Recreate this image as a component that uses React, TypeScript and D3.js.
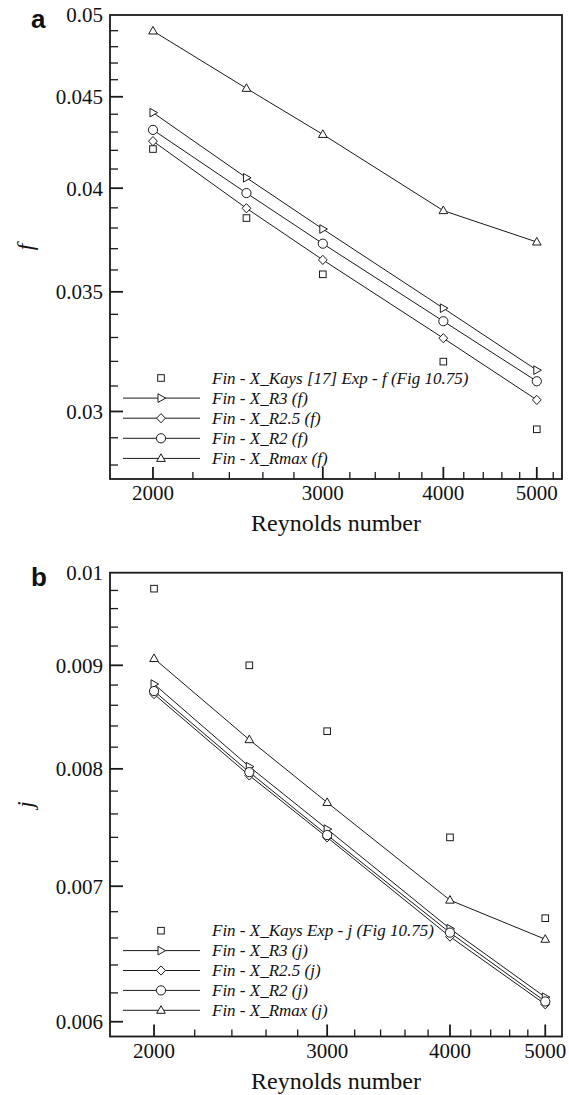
import React from "react";
import * as d3 from "d3";

const reynolds = [2000, 2500, 3000, 4000, 5000];

// Panel a: friction factor f
const fKays = [0.04207, 0.03849, 0.0358, 0.03199, 0.02932];
const fR3 = [0.04409, 0.04054, 0.03795, 0.03427, 0.03164];
const fR25 = [0.0425, 0.03898, 0.03647, 0.03297, 0.03045];
const fR2 = [0.04312, 0.03975, 0.03724, 0.0337, 0.03119];
const fRmax = [0.04898, 0.04549, 0.04287, 0.03886, 0.03732];

// Panel b: Colburn factor j
const jKays = [0.00982, 0.009, 0.00835, 0.0074, 0.00675];
const jR3 = [0.00881, 0.00802, 0.00747, 0.00667, 0.00617];
const jR25 = [0.00871, 0.00794, 0.0074, 0.00661, 0.00612];
const jR2 = [0.00874, 0.00797, 0.00742, 0.00664, 0.00614];
const jRmax = [0.00907, 0.00827, 0.0077, 0.00689, 0.00659];

const xMajorTicks = [2000, 3000, 4000, 5000];
const xMinorTicks = [2200, 2400, 2600, 2800, 3200, 3400, 3600, 3800, 4200, 4400, 4600, 4800, 5200];
const fMajorTicks = [0.03, 0.035, 0.04, 0.045, 0.05];
const fTickLabels = ["0.03", "0.035", "0.04", "0.045", "0.05"];
const jMajorTicks = [0.006, 0.007, 0.008, 0.009, 0.01];
const jTickLabels = ["0.006", "0.007", "0.008", "0.009", "0.01"];

const fLegend = [
  "Fin - X_Kays [17] Exp - f (Fig 10.75)",
  "Fin - X_R3 (f)",
  "Fin - X_R2.5 (f)",
  "Fin - X_R2 (f)",
  "Fin - X_Rmax (f)",
];
const jLegend = [
  "Fin - X_Kays Exp - j (Fig 10.75)",
  "Fin - X_R3 (j)",
  "Fin - X_R2.5 (j)",
  "Fin - X_R2 (j)",
  "Fin - X_Rmax (j)",
];

type Shape = "square" | "triRight" | "diamond" | "circle" | "triUp";
const shapes: Shape[] = ["square", "triRight", "diamond", "circle", "triUp"];
const hasLine = [false, true, true, true, true];

const SERIF = "Liberation Serif, Tinos, Times New Roman, Times, DejaVu Serif, Noto Serif, serif";
const SANS = "Liberation Sans, Arimo, Arial, Helvetica, sans-serif";
const INK = "#1a1a1a";

function Marker({ shape, x, y }: { shape: Shape; x: number; y: number }) {
  const common = { fill: "#fff", stroke: INK, strokeWidth: 1 };
  switch (shape) {
    case "square":
      return <rect x={x - 3.3} y={y - 3.3} width={6.6} height={6.6} {...common} />;
    case "circle":
      return <circle cx={x} cy={y} r={4.6} {...common} />;
    case "diamond":
      return <path d={`M${x},${y - 4.6}L${x + 4.4},${y}L${x},${y + 4.6}L${x - 4.4},${y}Z`} {...common} />;
    case "triUp":
      return <path d={`M${x},${y - 4.6}L${x + 4.3},${y + 3}L${x - 4.3},${y + 3}Z`} {...common} />;
    case "triRight":
      return <path d={`M${x + 4.6},${y}L${x - 3},${y - 4.3}L${x - 3},${y + 4.3}Z`} {...common} />;
  }
}

interface PanelProps {
  letter: string;
  yLabel: string;
  xDomain: [number, number];
  yDomain: [number, number];
  top: number;
  bottom: number;
  series: number[][];
  yMajor: number[];
  yLabels: string[];
  yMinorStep: number;
  legend: string[];
  legendY0: number;
  legendStep: number;
}

function Panel(p: PanelProps) {
  const left = 110;
  const right = 562;
  const x = d3.scaleLog().domain(p.xDomain).range([left, right]);
  const y = d3.scaleLog().domain(p.yDomain).range([p.bottom, p.top]);
  const line = d3
    .line<number>()
    .x((_, i) => x(reynolds[i]))
    .y((d) => y(d));

  const yMinor: number[] = [];
  const lo = p.yDomain[0];
  const hi = p.yDomain[1];
  const n = Math.round(hi / p.yMinorStep);
  for (let k = 1; k <= n; k++) {
    const v = k * p.yMinorStep;
    if (v > lo && v < hi && !p.yMajor.some((m) => Math.abs(m - v) < p.yMinorStep / 10)) yMinor.push(v);
  }
  const xMinor = xMinorTicks.filter((v) => x(v) > left + 1 && x(v) < right - 1);

  const yMid = (p.top + p.bottom) / 2;

  return (
    <g>
      <text x={31} y={p.top + 13} style={{ fontFamily: SANS, fontWeight: "bold", fontSize: 26 }} fill="#111">
        {p.letter}
      </text>
      {/* series lines */}
      {p.series.map((s, si) =>
        hasLine[si] ? <path key={"l" + si} d={line(s) || ""} fill="none" stroke={INK} strokeWidth={1} /> : null
      )}
      {/* markers */}
      {p.series.map((s, si) =>
        s.map((v, i) => <Marker key={`m${si}-${i}`} shape={shapes[si]} x={x(reynolds[i])} y={y(v)} />)
      )}
      {/* legend */}
      {p.legend.map((t, i) => {
        const ly = p.legendY0 + i * p.legendStep;
        return (
          <g key={"lg" + i}>
            {hasLine[i] ? <line x1={123} x2={200} y1={ly} y2={ly} stroke={INK} strokeWidth={1} /> : null}
            <Marker shape={shapes[i]} x={161} y={ly} />
            <text x={212} y={ly} dy="0.33em" style={{ fontFamily: SERIF, fontStyle: "italic", fontSize: 17 }} fill="#111">
              {t}
            </text>
          </g>
        );
      })}
      {/* frame */}
      <rect x={left} y={p.top} width={right - left} height={p.bottom - p.top} fill="none" stroke={INK} strokeWidth={1.8} />
      {/* y ticks */}
      {p.yMajor.map((v, i) => (
        <g key={"ym" + i}>
          {v < hi ? <line x1={left} x2={left + 13} y1={y(v)} y2={y(v)} stroke={INK} strokeWidth={1.8} /> : null}
          <text x={103} y={y(v)} dy="0.35em" textAnchor="end" style={{ fontFamily: SERIF, fontSize: 21 }} fill="#111">
            {p.yLabels[i]}
          </text>
        </g>
      ))}
      {yMinor.map((v, i) => (
        <line key={"yn" + i} x1={left} x2={left + 8} y1={y(v)} y2={y(v)} stroke={INK} strokeWidth={1.3} />
      ))}
      {/* x ticks */}
      {xMajorTicks.map((v, i) => (
        <g key={"xm" + i}>
          <line x1={x(v)} x2={x(v)} y1={p.bottom} y2={p.bottom - 12} stroke={INK} strokeWidth={1.8} />
          <text x={x(v)} y={p.bottom + 21} textAnchor="middle" style={{ fontFamily: SERIF, fontSize: 21 }} fill="#111">
            {v}
          </text>
        </g>
      ))}
      {xMinor.map((v, i) => (
        <line key={"xn" + i} x1={x(v)} x2={x(v)} y1={p.bottom} y2={p.bottom - 7} stroke={INK} strokeWidth={1.3} />
      ))}
      <text x={336} y={p.bottom + 52} textAnchor="middle" style={{ fontFamily: SERIF, fontSize: 24 }} fill="#111">
        Reynolds number
      </text>
      <text
        transform={`translate(33,${yMid}) rotate(-90)`}
        textAnchor="middle"
        style={{ fontFamily: SERIF, fontStyle: "italic", fontSize: 23 }}
        fill="#111"
      >
        {p.yLabel}
      </text>
    </g>
  );
}

export default function App() {
  return (
    <svg
      width={569}
      height={1095}
      viewBox="0 0 569 1095"
      style={{ position: "absolute", left: 0, top: 0, background: "#fff" }}
    >
      <rect x={0} y={0} width={569} height={1095} fill="#fff" />
      <Panel
        letter="a"
        yLabel="f"
        xDomain={[1805, 5310]}
        yDomain={[0.0275, 0.05]}
        top={15}
        bottom={479}
        series={[fKays, fR3, fR25, fR2, fRmax]}
        yMajor={fMajorTicks}
        yLabels={fTickLabels}
        yMinorStep={0.001}
        legend={fLegend}
        legendY0={378}
        legendStep={20.1}
      />
      <Panel
        letter="b"
        yLabel="j"
        xDomain={[1804, 5200]}
        yDomain={[0.0059, 0.01]}
        top={572.7}
        bottom={1036.5}
        series={[jKays, jR3, jR25, jR2, jRmax]}
        yMajor={jMajorTicks}
        yLabels={jTickLabels}
        yMinorStep={0.0002}
        legend={jLegend}
        legendY0={930.7}
        legendStep={19.9}
      />
    </svg>
  );
}
